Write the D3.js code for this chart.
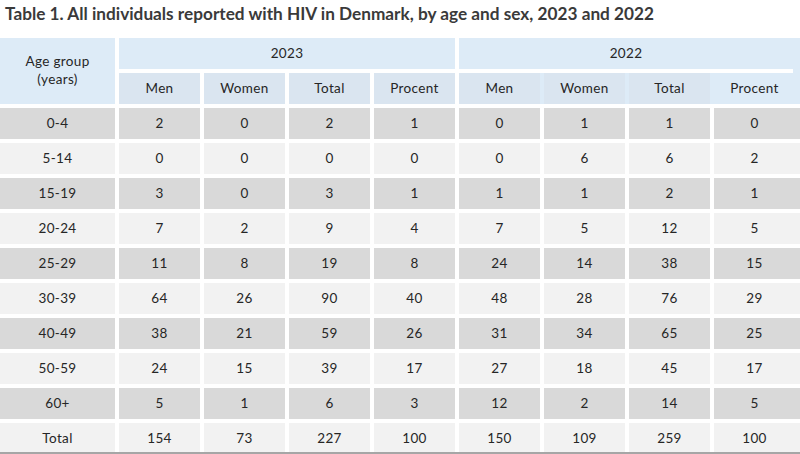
<!DOCTYPE html>
<html>
<head>
<meta charset="utf-8">
<script src="https://cdn.jsdelivr.net/npm/d3@7"></script>
<style>
  html, body { margin: 0; padding: 0; background: #ffffff; }
  svg { display: block; }
</style>
</head>
<body>
<div id="chart"></div>
<script>
// ---- Data ----
const title = "Table 1. All individuals reported with HIV in Denmark, by age and sex, 2023 and 2022";
const years = ["2023", "2022"];
const subColumns = ["Men", "Women", "Total", "Procent"];
const ageGroups = ["0-4", "5-14", "15-19", "20-24", "25-29", "30-39", "40-49", "50-59", "60+", "Total"];
const men2023     = [2, 0, 3, 7, 11, 64, 38, 24, 5, 154];
const women2023   = [0, 0, 0, 2, 8, 26, 21, 15, 1, 73];
const total2023   = [2, 0, 3, 9, 19, 90, 59, 39, 6, 227];
const procent2023 = [1, 0, 1, 4, 8, 40, 26, 17, 3, 100];
const men2022     = [0, 0, 1, 7, 24, 48, 31, 27, 12, 150];
const women2022   = [1, 6, 1, 5, 14, 28, 34, 18, 2, 109];
const total2022   = [1, 6, 2, 12, 38, 76, 65, 45, 14, 259];
const procent2022 = [0, 2, 1, 5, 15, 29, 25, 17, 5, 100];

const seriesByYear = {
  "2023": [men2023, women2023, total2023, procent2023],
  "2022": [men2022, women2022, total2022, procent2022]
};

// ---- Layout ----
const W = 800, H = 454;
const font = "'Century Gothic', 'URW Gothic', 'URW Gothic L', Lato, 'DejaVu Sans', sans-serif";
const fs = 13.5;
const ls = 0.35;
const textColor = "#262626";
const headBlue = "#ddebf7";
const subBlue = "#dae5f0";
const rowDark = "#d9d9d9";
const rowLight = "#f2f2f2";

const svg = d3.select("#chart").append("svg")
  .attr("width", W).attr("height", H);

svg.append("rect").attr("width", W).attr("height", H).attr("fill", "#fff");

// title
svg.append("text")
  .attr("x", 5).attr("y", 20)
  .attr("textLength", 649)
  .attr("lengthAdjust", "spacingAndGlyphs")
  .attr("font-family", font)
  .attr("font-weight", "bold")
  .attr("font-size", 16.5)
  .attr("fill", "#3a3a3a")
  .text(title);

// column keys
const colKeys = [];
years.forEach(y => subColumns.forEach(s => colKeys.push(y + "|" + s)));

const x = d3.scaleBand()
  .domain(colKeys)
  .range([119, 795])
  .paddingInner(4 / 85)
  .paddingOuter(0);

const y = d3.scaleBand()
  .domain(ageGroups)
  .range([108, 454])
  .paddingInner(4 / 35)
  .paddingOuter(0);

const headTop = 38, headH = 31, subTop = 73, subH = 31;
const ageColX = 0, ageColW = 115;

function cellWidth(k) {
  return k === colKeys[colKeys.length - 1] ? W - x(k) : x.bandwidth();
}

function label(sel, cx, cy, txt) {
  return sel.append("text")
    .attr("x", cx).attr("y", cy)
    .attr("font-family", font).attr("font-size", fs)
    .attr("letter-spacing", ls)
    .attr("fill", textColor).attr("text-anchor", "middle")
    .text(txt);
}

// ---- Header ----
svg.append("rect")
  .attr("x", ageColX).attr("y", headTop)
  .attr("width", ageColW).attr("height", subTop + subH - headTop)
  .attr("fill", headBlue);
const ageLabel = svg.append("text")
  .attr("font-family", font).attr("font-size", fs)
  .attr("letter-spacing", ls)
  .attr("fill", textColor).attr("text-anchor", "middle");
ageLabel.append("tspan").attr("x", ageColW / 2).attr("y", 66).text("Age group");
ageLabel.append("tspan").attr("x", ageColW / 2).attr("y", 84).text("(years)");

years.forEach((yr, i) => {
  const first = x(yr + "|" + subColumns[0]);
  const lastKey = yr + "|" + subColumns[subColumns.length - 1];
  const right = i === years.length - 1 ? W : x(lastKey) + x.bandwidth();
  svg.append("rect")
    .attr("x", first).attr("y", headTop)
    .attr("width", right - first).attr("height", i === years.length - 1 ? subTop + subH - headTop : headH)
    .attr("fill", headBlue);
  const textRight = x(lastKey) + x.bandwidth() - (i === years.length - 1 ? 2 : 0);
  label(svg, (first + textRight) / 2, headTop + headH / 2 + 4.5, yr);
});

colKeys.forEach(k => {
  const [yr, s] = k.split("|");
  svg.append("rect")
    .attr("x", x(k)).attr("y", subTop)
    .attr("width", cellWidth(k)).attr("height", subH)
    .attr("fill", k === colKeys[colKeys.length - 1] ? headBlue : subBlue);
  label(svg, x(k) + x.bandwidth() / 2, subTop + subH / 2 + 4.5, s);
});
svg.append("rect")
  .attr("x", x(colKeys[4])).attr("y", headTop + headH)
  .attr("width", 793 - x(colKeys[4])).attr("height", subTop - headTop - headH)
  .attr("fill", "#fff");

// ---- Body ----
const rows = svg.append("g").selectAll("g")
  .data(ageGroups)
  .join("g")
  .attr("transform", d => `translate(0,${y(d)})`);

rows.each(function(age, ri) {
  const g = d3.select(this);
  const fill = ri % 2 === 0 ? rowDark : rowLight;
  g.append("rect")
    .attr("x", ageColX).attr("y", 0)
    .attr("width", ageColW).attr("height", y.bandwidth())
    .attr("fill", fill);
  label(g, ageColW / 2, y.bandwidth() / 2 + 4.5, age);
  colKeys.forEach(k => {
    const [yr, s] = k.split("|");
    const val = seriesByYear[yr][subColumns.indexOf(s)][ri];
    g.append("rect")
      .attr("x", x(k)).attr("y", 0)
      .attr("width", cellWidth(k)).attr("height", y.bandwidth())
      .attr("fill", fill);
    label(g, x(k) + x.bandwidth() / 2, y.bandwidth() / 2 + 4.5, val);
  });
});

svg.append("rect")
  .attr("x", 0).attr("y", 452)
  .attr("width", W).attr("height", 2)
  .attr("fill", "#a6a6a6");
</script>
</body>
</html>
